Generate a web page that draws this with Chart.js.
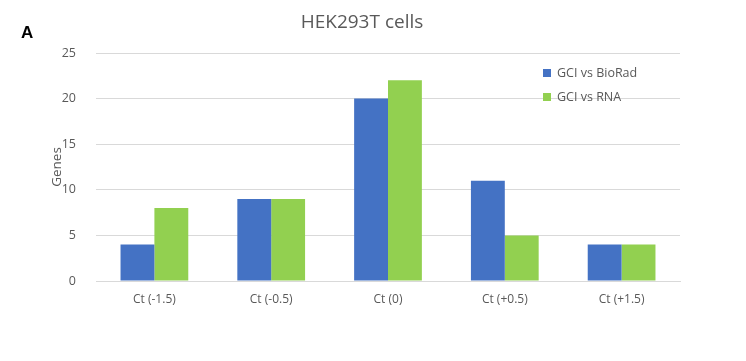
<!DOCTYPE html>
<html>
<head>
<meta charset="utf-8">
<script src="https://cdn.jsdelivr.net/npm/chart.js@4"></script>
<style>
  html, body { margin: 0; padding: 0; background: #fff; }
  #wrap { width: 746px; height: 361px; }
</style>
</head>
<body>
<div id="wrap"><canvas id="chart" width="746" height="361"></canvas></div>
<script>
/* ================= DATA ================= */

const categories = ["Ct (-1.5)", "Ct (-0.5)", "Ct (0)", "Ct (+0.5)", "Ct (+1.5)"];
const biorad = [4, 9, 20, 11, 4];
const rna = [8, 9, 22, 5, 4];
const seriesNames = ["GCI vs BioRad", "GCI vs RNA"];
const yTicks = [0, 5, 10, 15, 20, 25];

const FONT = "'Open Sans', 'Noto Sans', sans-serif";
const GREY = "#595959";

/* ================= TITLE + LEGEND + PANEL LETTER ================= */

const decorations = {
  id: "decorations",
  afterDraw(chart) {
    const ctx = chart.ctx;
    ctx.save();

    // panel letter
    ctx.fillStyle = "#000";
    ctx.font = "bold 17px 'Liberation Sans', Arial, sans-serif";
    ctx.textAlign = "left";
    ctx.textBaseline = "middle";
    ctx.fillText("A", 21, 33);

    // title
    ctx.fillStyle = GREY;
    ctx.font = "19px " + FONT;
    ctx.textAlign = "center";
    ctx.fillText("HEK293T cells", 362, 23);

    // legend
    ctx.font = "12.5px " + FONT;
    ctx.textAlign = "left";
    chart.data.datasets.forEach((ds, i) => {
      const y = 73 + i * 24;
      ctx.fillStyle = ds.backgroundColor;
      ctx.fillRect(543, y - 4, 8, 8);
      ctx.fillStyle = GREY;
      ctx.fillText(ds.label, 557, y);
    });

    ctx.restore();
  }
};

/* ================= CHART ================= */

new Chart(document.getElementById("chart"), {
  type: "bar",
  data: {
    labels: categories,
    datasets: [
      { label: seriesNames[0], data: biorad, backgroundColor: "#4472C4" },
      { label: seriesNames[1], data: rna, backgroundColor: "#92D050" }
    ]
  },
  options: {
    responsive: false,
    animation: false,
    layout: { padding: { left: 49, right: 66, top: 53, bottom: 0 } },
    datasets: { bar: { barPercentage: 1, categoryPercentage: 0.58 } },
    plugins: {
      legend: { display: false },
      title: { display: false },
      tooltip: { enabled: false }
    },
    scales: {
      x: {
        grid: { display: false },
        border: { color: "#d9d9d9" },
        ticks: { color: GREY, font: { family: FONT, size: 12 }, padding: 3 },
        afterFit(scale) { scale.height = 80; }
      },
      y: {
        min: 0,
        max: 25,
        afterBuildTicks(scale) { scale.ticks = yTicks.map(v => ({ value: v })); },
        grid: { color: "#d9d9d9", drawTicks: false },
        border: { display: false },
        ticks: { color: GREY, font: { family: FONT, size: 12.5 }, padding: 20 },
        title: {
          display: true,
          text: "Genes",
          color: GREY,
          font: { family: FONT, size: 13.5 },
          padding: 0
        },
        afterFit(scale) { scale.width = 47; }
      }
    }
  },
  plugins: [decorations]
});
</script>
</body>
</html>
